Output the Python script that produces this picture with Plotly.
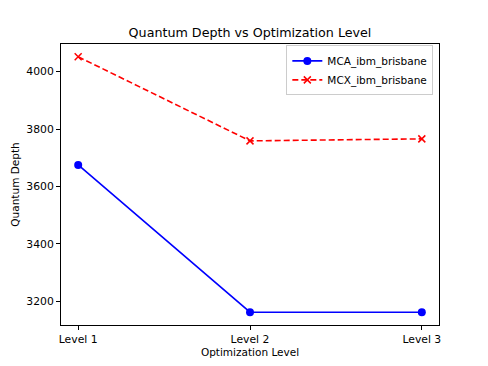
import plotly.graph_objects as go

levels = ["Level 1", "Level 2", "Level 3"]
mca_depth = [3675, 3162, 3162]
mcx_depth = [4052, 3759, 3766]

FONT = "DejaVu Sans"

fig = go.Figure()
fig.add_trace(go.Scatter(
    x=levels, y=mca_depth, name="MCA_ibm_brisbane", mode="lines+markers",
    line=dict(color="#0000ff", width=1.6),
    marker=dict(symbol="circle", size=8, color="#0000ff"),
))
fig.add_trace(go.Scatter(
    x=levels, y=mcx_depth, name="MCX_ibm_brisbane", mode="lines+markers",
    line=dict(color="#ff0000", width=1.6, dash="6px,3px"),
    marker=dict(symbol="x-thin", size=7, color="#ff0000", line=dict(color="#ff0000", width=1.5)),
))

fig.update_layout(
    width=488, height=366,
    paper_bgcolor="white", plot_bgcolor="white",
    margin=dict(l=61, r=49, t=44, b=41, autoexpand=False),
    font=dict(family=FONT, size=10.5, color="black"),
    title=dict(text="Quantum Depth vs Optimization Level", x=0.5, xanchor="center",
               xref="paper", y=0.91, yref="container", yanchor="middle",
               font=dict(family=FONT, size=12.7, color="black")),
    showlegend=True,
    legend=dict(x=0.985, y=0.995, xanchor="right", yanchor="top",
                bgcolor="rgba(255,255,255,0.8)", bordercolor="#cccccc", borderwidth=1,
                font=dict(family=FONT, size=10.5), tracegroupgap=0, itemwidth=30),
)
fig.update_xaxes(
    title=dict(text="Optimization Level", standoff=3, font=dict(family=FONT, size=10.5)),
    tickfont=dict(family=FONT, size=10.8),
    automargin=False,
    range=[-0.1, 2.1], showgrid=False, zeroline=False,
    showline=True, linecolor="black", linewidth=1, mirror=True,
    ticks="outside", ticklen=4, tickcolor="black",
)
fig.update_yaxes(
    title=dict(text="Quantum Depth", standoff=4, font=dict(family=FONT, size=10.5)),
    tickfont=dict(family=FONT, size=10.8),
    automargin=False,
    range=[3117.5, 4096.5], tickvals=[3200, 3400, 3600, 3800, 4000],
    showgrid=False, zeroline=False,
    showline=True, linecolor="black", linewidth=1, mirror=True,
    ticks="outside", ticklen=4, tickcolor="black",
)

fig.write_html("out.html", config={"displayModeBar": False},
               post_script="document.body.style.margin='0';")
